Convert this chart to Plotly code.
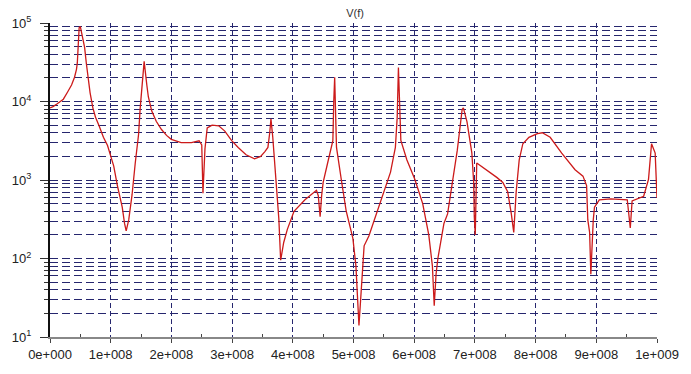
import plotly.graph_objects as go

# Frequency sweep (units of 1e8 Hz) and magnitude of V(f)
freq_e8 = [
    0.00, 0.05, 0.113, 0.15, 0.22, 0.29, 0.33, 0.355, 0.404, 0.42,
    0.436, 0.45, 0.46, 0.47, 0.48, 0.50, 0.525, 0.55, 0.57, 0.60,
    0.625, 0.66, 0.706, 0.75, 0.813, 0.88, 0.948, 1.00, 1.05, 1.11,
    1.15, 1.19, 1.228, 1.255, 1.297, 1.352, 1.405, 1.459, 1.486, 1.523,
    1.551, 1.595, 1.62, 1.675, 1.75, 1.837, 1.92, 1.998, 2.16, 2.33,
    2.456, 2.50, 2.52, 2.553, 2.59, 2.67, 2.78, 2.88, 2.99, 3.10,
    3.23, 3.37, 3.47, 3.54, 3.59, 3.62, 3.64, 3.67, 3.72, 3.77,
    3.80, 3.85, 3.91, 4.02, 4.20, 4.39, 4.42, 4.45, 4.475, 4.50,
    4.57, 4.66, 4.675, 4.69, 4.70, 4.72, 4.80, 4.88, 4.99, 5.04,
    5.09, 5.12, 5.175, 5.255, 5.44, 5.61, 5.69, 5.72, 5.74, 5.76,
    5.78, 5.88, 6.01, 6.14, 6.24, 6.30, 6.33, 6.36, 6.39, 6.49,
    6.55, 6.71, 6.79, 6.81, 6.87, 6.95, 6.98, 6.99, 7.006, 7.03,
    7.15, 7.25, 7.36, 7.46, 7.54, 7.60, 7.64, 7.68, 7.73, 7.79,
    7.89, 8.03, 8.11, 8.24, 8.43, 8.65, 8.78, 8.84, 8.86, 8.89,
    8.91, 8.95, 8.97, 9.05, 9.24, 9.51, 9.54, 9.56, 9.59, 9.78,
    9.86, 9.91, 9.97, 10.0,
]
v_mag = [
    8300, 8600, 9300, 9800, 10700, 13200, 14800, 16200, 20400, 22500,
    25700, 31000, 40000, 55000, 87000, 90000, 71000, 58000, 49000, 30000,
    19500, 13000, 8300, 6300, 4800, 3500, 2750, 2000, 1500, 850,
    620, 450, 280, 225, 310, 650, 1660, 3800, 8300, 19500,
    32400, 16200, 11500, 7600, 5600, 4400, 3700, 3300, 3000, 3000,
    3160, 2800, 680, 2500, 4600, 5000, 4900, 4200, 3200, 2600,
    2100, 1860, 2000, 2300, 2600, 4000, 6000, 3500, 1000, 320,
    95, 160, 235, 400, 560, 740, 630, 340, 630, 930,
    1600, 3160, 10000, 20400, 10000, 2600, 1000, 400, 180, 80,
    14, 32, 145, 195, 500, 1260, 2600, 6300, 27000, 8000,
    3200, 1800, 1020, 500, 200, 80, 25, 63, 100, 280,
    370, 2400, 7900, 8300, 5500, 2200, 930, 340, 200, 1650,
    1420, 1230, 1080, 930, 710, 370, 215, 710, 1800, 2900,
    3500, 3900, 4000, 3500, 2200, 1350, 1120, 850, 310, 215,
    63, 310, 450, 560, 575, 560, 310, 245, 540, 620,
    1020, 2900, 2200, 590,
]
freq_hz = [f * 1e8 for f in freq_e8]

x_ticks = [i * 1e8 for i in range(11)]
x_labels = ["0e+000", "1e+008", "2e+008", "3e+008", "4e+008", "5e+008",
            "6e+008", "7e+008", "8e+008", "9e+008", "1e+009"]
x_minor = [(i + 0.5) * 1e8 for i in range(10)]

decades = [10, 100, 1000, 10000, 100000]
decade_labels = ["10<sup>1</sup>", "10<sup>2</sup>", "10<sup>3</sup>",
                 "10<sup>4</sup>", "10<sup>5</sup>"]
y_minor = [m * d for d in decades[:-1] for m in range(2, 10)]

grid_col = "#26266e"

fig = go.Figure()
fig.add_trace(go.Scatter(
    x=freq_hz, y=v_mag, mode="lines",
    line=dict(color="#cc1a1a", width=1.3),
    hoverinfo="skip", showlegend=False,
))

fig.update_layout(
    width=691, height=374,
    margin=dict(l=48, r=24, t=23, b=21),
    paper_bgcolor="white", plot_bgcolor="white",
    font=dict(family="Liberation Sans, Arial, sans-serif", size=12, color="#222"),
    title=dict(text="V(f)", x=(48 + 307) / 691, xanchor="center", y=0.975,
               yanchor="top", font=dict(size=11, color="#333")),
    showlegend=False,
)

fig.update_xaxes(
    range=[0, 1e9], tickmode="array", tickvals=x_ticks, ticktext=x_labels,
    showline=True, linecolor="#888", linewidth=2,
    ticks="outside", ticklen=4, tickcolor="#444", tickwidth=1,
    showgrid=True, gridcolor=grid_col, gridwidth=1, griddash="5px,3px",
    zeroline=False, tickfont=dict(size=13, color="#222"),
    minor=dict(tickvals=x_minor, ticks="inside", ticklen=3, tickcolor="#444",
               showgrid=False),
)

fig.update_yaxes(
    type="log", range=[1, 5], tickmode="array", tickvals=decades,
    ticktext=decade_labels,
    showline=True, linecolor="#111", linewidth=2,
    ticks="outside", ticklen=8, tickcolor="#333", tickwidth=1,
    showgrid=True, gridcolor=grid_col, gridwidth=1, griddash="8px,4px",
    zeroline=False, tickfont=dict(size=13, color="#222"),
    ticklabelstandoff=6,
    minor=dict(tickvals=y_minor, ticks="outside", ticklen=4, tickcolor="#333",
               showgrid=True, gridcolor=grid_col, gridwidth=1, griddash="8px,4px"),
)

fig.write_html("out.html")
